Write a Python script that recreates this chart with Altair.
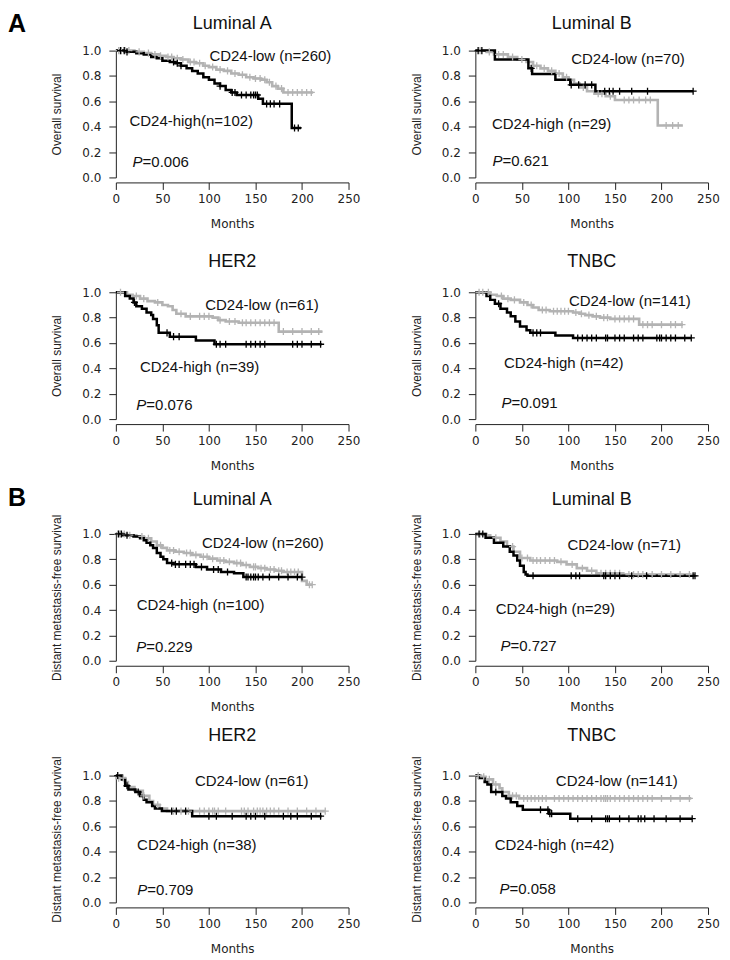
import altair as alt
import pandas as pd

# ---------------- data ----------------
# A  Overall survival, Luminal A
os_la_low_t = [0, 20, 30, 38, 46, 54, 62, 70, 78, 86, 94, 100, 108, 116, 124, 132, 140, 148, 156, 162, 168, 174, 180, 212]
os_la_low_s = [1.0, 0.99, 0.98, 0.97, 0.96, 0.95, 0.94, 0.93, 0.91, 0.90, 0.88, 0.87, 0.85, 0.84, 0.82, 0.81, 0.79, 0.78, 0.77, 0.75, 0.72, 0.70, 0.67, 0.67]
os_la_low_c = [3, 6, 10, 14, 25, 35, 42, 48, 56, 60, 66, 72, 80, 84, 90, 96, 104, 112, 120, 128, 136, 144, 150, 155, 160, 165, 172, 178, 185, 190, 195, 200, 205, 210]
os_la_high_t = [0, 10, 22, 30, 38, 44, 50, 58, 64, 70, 76, 82, 88, 94, 100, 106, 112, 118, 124, 130, 153, 158, 189, 199]
os_la_high_s = [1.0, 0.99, 0.98, 0.97, 0.95, 0.94, 0.92, 0.91, 0.90, 0.88, 0.86, 0.84, 0.82, 0.79, 0.77, 0.74, 0.72, 0.69, 0.67, 0.65, 0.62, 0.58, 0.39, 0.39]
os_la_high_c = [5, 9, 12, 62, 66, 70, 112, 125, 128, 135, 140, 145, 148, 150, 152, 162, 166, 170, 176, 192, 196]

# A  Overall survival, Luminal B
os_lb_low_t = [0, 12, 20, 35, 45, 55, 62, 70, 78, 86, 94, 100, 106, 112, 120, 128, 140, 150, 196, 223]
os_lb_low_s = [1.0, 0.99, 0.97, 0.95, 0.93, 0.91, 0.88, 0.86, 0.84, 0.82, 0.79, 0.77, 0.74, 0.71, 0.68, 0.66, 0.64, 0.61, 0.41, 0.41]
os_lb_low_c = [5, 15, 25, 30, 40, 50, 66, 74, 82, 90, 98, 116, 132, 136, 145, 160, 165, 170, 176, 183, 188, 205, 212, 218]
os_lb_high_t = [0, 21, 57, 61, 86, 102, 129, 234]
os_lb_high_s = [1.0, 0.93, 0.86, 0.815, 0.77, 0.73, 0.68, 0.68]
os_lb_high_c = [3, 7, 60, 103, 111, 118, 125, 139, 144, 148, 155, 168, 185, 234]

# A  Overall survival, HER2
os_h2_low_t = [0, 12, 18, 26, 34, 42, 50, 56, 61, 65, 75, 104, 110, 118, 132, 175, 222]
os_h2_low_s = [1.0, 0.98, 0.97, 0.95, 0.93, 0.92, 0.90, 0.89, 0.86, 0.83, 0.81, 0.80, 0.78, 0.77, 0.76, 0.69, 0.69]
os_h2_low_c = [5, 22, 30, 45, 70, 80, 90, 95, 100, 112, 122, 128, 136, 140, 145, 150, 155, 160, 165, 170, 180, 190, 200, 210, 218]
os_h2_high_t = [0, 10, 15, 19, 22, 28, 33, 38, 40, 44, 46, 58, 86, 106, 221]
os_h2_high_s = [1.0, 0.97, 0.95, 0.92, 0.89, 0.87, 0.84, 0.82, 0.79, 0.74, 0.68, 0.65, 0.62, 0.59, 0.59]
os_h2_high_c = [20, 55, 62, 68, 108, 112, 118, 140, 145, 150, 155, 160, 190, 195, 200, 210, 220]

# A  Overall survival, TNBC
os_tn_low_t = [0, 16, 23, 30, 38, 48, 56, 62, 68, 80, 105, 112, 118, 126, 134, 145, 176, 223]
os_tn_low_s = [1.0, 0.98, 0.97, 0.95, 0.94, 0.92, 0.90, 0.88, 0.86, 0.85, 0.84, 0.83, 0.82, 0.81, 0.80, 0.79, 0.745, 0.745]
os_tn_low_c = [4, 8, 14, 28, 35, 42, 52, 60, 72, 76, 84, 88, 92, 96, 100, 108, 114, 122, 130, 138, 142, 150, 155, 160, 165, 170, 180, 185, 190, 200, 210, 215, 222]
os_tn_high_t = [0, 12, 16, 21, 27, 34, 38, 43, 48, 55, 59, 86, 105, 232]
os_tn_high_s = [1.0, 0.97, 0.94, 0.91, 0.87, 0.84, 0.81, 0.77, 0.73, 0.70, 0.68, 0.66, 0.64, 0.64]
os_tn_high_c = [25, 62, 66, 70, 110, 115, 120, 125, 130, 140, 142, 150, 155, 160, 170, 175, 180, 195, 198, 200, 205, 210, 215, 225, 232]

# B  Distant metastasis-free survival, Luminal A
dm_la_low_t = [0, 12, 22, 30, 38, 44, 50, 55, 64, 73, 82, 91, 100, 109, 118, 127, 136, 144, 153, 162, 171, 180, 200, 205, 211]
dm_la_low_s = [1.0, 0.99, 0.98, 0.965, 0.94, 0.91, 0.89, 0.87, 0.86, 0.85, 0.835, 0.82, 0.805, 0.79, 0.78, 0.77, 0.755, 0.74, 0.73, 0.72, 0.71, 0.70, 0.63, 0.60, 0.60]
dm_la_low_c = [2, 5, 9, 15, 28, 35, 48, 58, 62, 68, 76, 80, 86, 94, 98, 104, 112, 116, 122, 130, 134, 140, 148, 150, 156, 160, 166, 170, 175, 178, 184, 188, 192, 196, 208, 211]
dm_la_high_t = [0, 8, 19, 26, 30, 33, 37, 40, 44, 48, 51, 55, 62, 86, 98, 113, 127, 137, 200]
dm_la_high_s = [1.0, 0.99, 0.98, 0.965, 0.95, 0.93, 0.91, 0.89, 0.85, 0.82, 0.80, 0.77, 0.76, 0.74, 0.72, 0.70, 0.69, 0.66, 0.66]
dm_la_high_c = [3, 6, 12, 60, 64, 68, 75, 80, 84, 92, 105, 110, 120, 140, 142, 145, 148, 150, 153, 158, 165, 175, 185, 195, 200]

# B  Distant metastasis-free survival, Luminal B
dm_lb_low_t = [0, 12, 16, 27, 34, 41, 48, 59, 88, 98, 109, 120, 130, 159, 232]
dm_lb_low_s = [1.0, 0.99, 0.97, 0.94, 0.90, 0.86, 0.81, 0.79, 0.78, 0.76, 0.73, 0.71, 0.69, 0.68, 0.68]
dm_lb_low_c = [5, 22, 40, 50, 56, 62, 66, 70, 75, 80, 85, 92, 104, 115, 125, 135, 140, 145, 150, 155, 165, 170, 175, 180, 190, 200, 210, 220, 230]
dm_lb_high_t = [0, 11, 20, 30, 37, 41, 45, 48, 52, 54, 56, 236]
dm_lb_high_s = [1.0, 0.97, 0.93, 0.90, 0.86, 0.83, 0.79, 0.75, 0.70, 0.68, 0.67, 0.67]
dm_lb_high_c = [4, 8, 62, 103, 108, 112, 138, 140, 145, 150, 155, 168, 184, 234, 236]

# B  Distant metastasis-free survival, HER2
dm_h2_low_t = [0, 1, 10, 13, 20, 29, 36, 40, 47, 55, 225]
dm_h2_low_s = [1.0, 0.98, 0.95, 0.91, 0.88, 0.84, 0.80, 0.77, 0.74, 0.72, 0.72]
dm_h2_low_c = [3, 8, 30, 45, 62, 70, 78, 90, 95, 100, 104, 106, 110, 118, 135, 138, 142, 148, 152, 155, 158, 162, 166, 170, 175, 185, 195, 205, 215, 225]
dm_h2_high_t = [0, 6.5, 10, 13.5, 21, 26, 30, 33, 39, 42, 49.5, 82, 221]
dm_h2_high_s = [1.0, 0.97, 0.92, 0.89, 0.87, 0.84, 0.81, 0.79, 0.76, 0.74, 0.72, 0.68, 0.68]
dm_h2_high_c = [2, 12, 24, 60, 65, 75, 100, 108, 125, 140, 145, 150, 160, 180, 188, 195, 210, 220]

# B  Distant metastasis-free survival, TNBC
dm_tn_low_t = [0, 6, 11, 19, 26, 29, 36, 47, 232]
dm_tn_low_s = [1.0, 0.99, 0.97, 0.93, 0.90, 0.87, 0.84, 0.82, 0.82]
dm_tn_low_c = [3, 9, 15, 22, 40, 44, 52, 56, 60, 64, 68, 72, 76, 85, 90, 95, 100, 105, 110, 115, 120, 125, 130, 135, 138, 140, 142, 145, 150, 155, 160, 165, 170, 175, 180, 185, 190, 200, 210, 220, 230]
dm_tn_high_t = [0, 4, 10, 13, 17, 29, 33, 38, 45, 51, 79, 102, 233]
dm_tn_high_s = [1.0, 0.98, 0.95, 0.93, 0.87, 0.84, 0.82, 0.79, 0.76, 0.73, 0.70, 0.66, 0.66]
dm_tn_high_c = [22, 70, 78, 80, 82, 110, 125, 140, 142, 144, 155, 165, 175, 178, 182, 192, 205, 220, 233]

# panel texts
titles = ["Luminal A", "Luminal B", "HER2", "TNBC", "Luminal A", "Luminal B", "HER2", "TNBC"]
low_labels = ["CD24-low (n=260)", "CD24-low (n=70)", "CD24-low (n=61)", "CD24-low (n=141)",
              "CD24-low (n=260)", "CD24-low (n=71)", "CD24-low (n=61)", "CD24-low (n=141)"]
high_labels = ["CD24-high(n=102)", "CD24-high (n=29)", "CD24-high (n=39)", "CD24-high (n=42)",
               "CD24-high (n=100)", "CD24-high (n=29)", "CD24-high (n=38)", "CD24-high (n=42)"]
p_values = ["=0.006", "=0.621", "=0.076", "=0.091", "=0.229", "=0.727", "=0.709", "=0.058"]
y_titles = ["Overall survival"] * 4 + ["Distant metastasis-free survival"] * 4
x_ticks = [0, 50, 100, 150, 200, 250]
y_ticks = [0.0, 0.2, 0.4, 0.6, 0.8, 1.0]

curves = [
    (os_la_low_t, os_la_low_s, os_la_low_c, os_la_high_t, os_la_high_s, os_la_high_c),
    (os_lb_low_t, os_lb_low_s, os_lb_low_c, os_lb_high_t, os_lb_high_s, os_lb_high_c),
    (os_h2_low_t, os_h2_low_s, os_h2_low_c, os_h2_high_t, os_h2_high_s, os_h2_high_c),
    (os_tn_low_t, os_tn_low_s, os_tn_low_c, os_tn_high_t, os_tn_high_s, os_tn_high_c),
    (dm_la_low_t, dm_la_low_s, dm_la_low_c, dm_la_high_t, dm_la_high_s, dm_la_high_c),
    (dm_lb_low_t, dm_lb_low_s, dm_lb_low_c, dm_lb_high_t, dm_lb_high_s, dm_lb_high_c),
    (dm_h2_low_t, dm_h2_low_s, dm_h2_low_c, dm_h2_high_t, dm_h2_high_s, dm_h2_high_c),
    (dm_tn_low_t, dm_tn_low_s, dm_tn_low_c, dm_tn_high_t, dm_tn_high_s, dm_tn_high_c),
]

# annotation anchors in data units (months, survival)
low_pos = [(166, 0.955), (164, 0.93), (157, 0.90), (166, 0.93), (158, 0.93), (160, 0.91), (146, 0.955), (152, 0.96)]
high_pos = [(81, 0.445), (82, 0.42), (90, 0.41), (95, 0.44), (91, 0.44), (86, 0.41), (87, 0.45), (85, 0.45)]
p_pos = [(18, 0.12), (18.5, 0.13), (22, 0.11), (28, 0.126), (22, 0.11), (27, 0.12), (23, 0.10), (26, 0.105)]

# ---------------- chart ----------------
W, H = 233, 127
GRAY = "#b3b3b3"
INK = "#222222"
SANS = "Liberation Sans"
AXF = "DejaVu Sans"


def step_frame(t, s):
    return pd.DataFrame({"t": t, "s": s})


def censor_frame(c, t, s):
    vals = []
    for ci in c:
        v = s[0]
        for ti, si in zip(t, s):
            if ti <= ci:
                v = si
        vals.append(v)
    return pd.DataFrame({"t": c, "s": vals})


def point_frame(pos):
    return pd.DataFrame({"t": [pos[0]], "s": [pos[1]]})


xs = alt.Scale(domain=[0, 250], nice=False, zero=False)
ys = alt.Scale(domain=[0, 1], nice=False, zero=False)
PLUS = "M -1 0 L 1 0 M 0 -1 L 0 1"


def panel(i, letter=None, letter_y=-39, title_y=-27):
    lt, ls, lc, ht, hs, hc = curves[i]
    x_ax = alt.Axis(values=x_ticks, title="Months", grid=False, offset=5, tickSize=7,
                    labelPadding=4, titlePadding=14, labelFont=AXF, labelFontSize=12,
                    titleFont=AXF, titleFontSize=12, titleFontWeight="normal",
                    domainColor=INK, tickColor=INK, labelColor=INK, titleColor=INK,
                    labelFlush=False, labelOverlap=False)
    y_ax = alt.Axis(values=y_ticks, format=".1f", title=y_titles[i], grid=False, tickSize=7,
                    labelPadding=8, labelFont=AXF, labelFontSize=12,
                    titleFont=SANS, titleFontSize=12, titleFontWeight="normal",
                    titleX=-59, titleY=H / 2, titleBaseline="middle", titleAlign="center",
                    domainColor=INK, tickColor=INK, labelColor=INK, titleColor=INK,
                    labelFlush=False, labelOverlap=False)
    X = alt.X("t:Q", scale=xs, axis=x_ax)
    Y = alt.Y("s:Q", scale=ys, axis=y_ax)

    low_line = alt.Chart(step_frame(lt, ls)).mark_line(
        interpolate="step-after", color=GRAY, strokeWidth=2.6).encode(x=X, y=Y)
    high_line = alt.Chart(step_frame(ht, hs)).mark_line(
        interpolate="step-after", color="#000000", strokeWidth=2.5).encode(x=X, y=Y)
    low_cens = alt.Chart(censor_frame(lc, lt, ls)).mark_point(
        shape=PLUS, size=50, filled=False, color=GRAY, strokeWidth=1.3, opacity=1).encode(x=X, y=Y)
    high_cens = alt.Chart(censor_frame(hc, ht, hs)).mark_point(
        shape=PLUS, size=50, filled=False, color="#000000", strokeWidth=1.3, opacity=1).encode(x=X, y=Y)

    def txt(label, pos, align="center", **kw):
        return alt.Chart(point_frame(pos)).mark_text(
            text=label, align=align, baseline="middle", font=SANS,
            fontSize=15, color="#111111", **kw).encode(x=X, y=Y)

    t_low = txt(low_labels[i], low_pos[i])
    t_high = txt(high_labels[i], high_pos[i])
    t_p = txt("P", p_pos[i], align="left", fontStyle="italic")
    t_pv = txt(p_values[i], p_pos[i], align="left", dx=10)
    t_title = alt.Chart(point_frame((0, 0))).mark_text(
        text=titles[i], align="center", baseline="middle",
        font=SANS, fontSize=18, color="#111111").encode(
        x=alt.value(W / 2), y=alt.value(title_y))
    layers = [low_line, high_line, low_cens, high_cens, t_low, t_high, t_p, t_pv, t_title]
    if letter is not None:
        layers.append(alt.Chart(point_frame((0, 0))).mark_text(
            text=letter, align="left", baseline="top",
            font=SANS, fontSize=25, fontWeight="bold", color="#000000").encode(
            x=alt.value(-108), y=alt.value(letter_y)))
    return alt.layer(*layers).properties(width=W, height=H)


panels = [
    panel(0, "A", -39, -27), panel(1, None, 0, -27),
    panel(2, None, 0, -30), panel(3, None, 0, -30),
    panel(4, "B", -48, -34), panel(5, None, 0, -34),
    panel(6, None, 0, -40), panel(7, None, 0, -40),
]

chart = alt.concat(*panels, columns=2, spacing={"row": 115, "column": 127}, bounds="flush").properties(
    padding={"left": 0, "top": 3, "right": 2, "bottom": 2}, background="white"
).configure_view(stroke=None)

chart.save("out.html", embed_options={"renderer": "svg", "actions": False})
